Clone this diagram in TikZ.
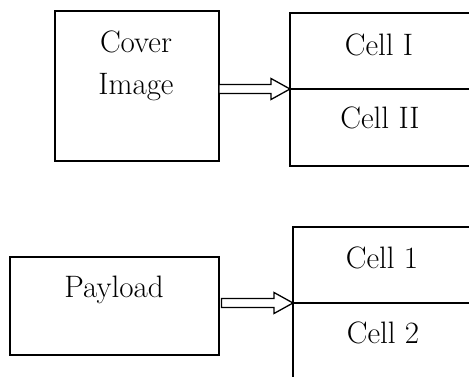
\documentclass[tikz,border=0pt]{standalone}
\usetikzlibrary{calc}
\tikzset{
  box/.style={draw, line width=1.3pt, inner sep=0pt, outer sep=0pt},
  lbl/.style={anchor=base, inner sep=0pt, font=\rmfamily\fontsize{31}{36}\selectfont},
  arr/.style={draw, line width=1.3pt, line join=miter, fill=white}
}
\newcommand\hollowarr[2]{%
  \path[arr] ($(#1)+(0,-4.5)$) -- ($(#2)+(-19,-4.5)$) -- ($(#2)+(-19,-10.5)$) -- (#2)
    -- ($(#2)+(-19,10.5)$) -- ($(#2)+(-19,4.5)$) -- ($(#1)+(0,4.5)$) -- cycle;}
\begin{document}
\begin{tikzpicture}[x=1pt,y=-1pt]
\useasboundingbox (0,0) rectangle (469,377);
\clip (0,0) rectangle (469,377);
% top group
\node[box, minimum width=164pt, minimum height=150pt] (cover) at (137,86) {};
\node[box, minimum width=190pt, minimum height=76pt] (cellI) at (385,51) {};
\node[box, minimum width=190pt, minimum height=77pt] (cellII) at (385,127.5) {};
\node[lbl] (tcover) at (136,53) {Cover};
\node[lbl] (timage) at (136,95) {Image};
\node[lbl] (tcellI) at (379,56) {Cell I};
\node[lbl] (tcellII) at (380,129) {Cell II};
\coordinate (a1s) at (cover.east |- cellI.south west);
\hollowarr{a1s}{cellI.south west}
% bottom group
\node[box, minimum width=209pt, minimum height=98pt] (payload) at (114.5,306) {};
\node[box, minimum width=190pt, minimum height=76pt] (cell1) at (388,265) {};
\node[box, minimum width=190pt, minimum height=82pt] (cell2) at (388,344) {};
\node[lbl] (tpayload) at (114,298) {Payload};
\node[lbl] (tcell1) at (382,269) {Cell 1};
\node[lbl] (tcell2) at (383,343) {Cell 2};
\coordinate (a2s) at ($(payload.east |- cell1.south west)+(2.5,0)$);
\hollowarr{a2s}{cell1.south west}
\end{tikzpicture}
\end{document}
